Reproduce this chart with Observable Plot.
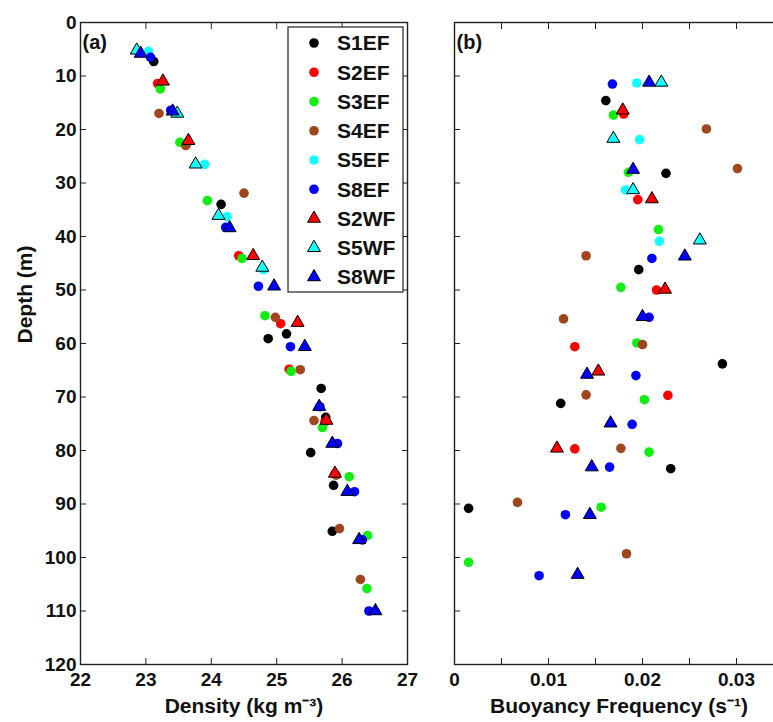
<!DOCTYPE html>
<html><head><meta charset="utf-8">
<script src="https://cdn.jsdelivr.net/npm/d3@7"></script>
<script src="https://cdn.jsdelivr.net/npm/@observablehq/plot@0.6"></script>
<style>
body{margin:0;background:#fff}
#wrap{position:relative;width:773px;height:722px;overflow:hidden;background:#fff;font-family:"Liberation Sans",Arial,sans-serif;font-weight:bold}
#wrap svg{position:absolute;top:0}
</style></head><body><div id="wrap"></div>
<script>
const series = ["S1EF","S2EF","S3EF","S4EF","S5EF","S8EF","S2WF","S5WF","S8WF"];
const colors = ["#000000","#ff0000","#11ee11","#a0461e","#11ffff","#0000ff","#ff0000","#11ffff","#0000ff"];
const shapes = ["circle","circle","circle","circle","circle","circle","triangle","triangle","triangle"];

// Panel (a): [density kg m-3, depth m]
const densS1EF = [[23.12,7.3],[24.15,34.0],[24.87,59.1],[25.15,58.2],[25.68,68.4],[25.75,73.8],[25.52,80.4],[25.87,86.5],[25.85,95.1]];
const densS2EF = [[23.18,11.4],[23.62,22.6],[24.42,43.6],[25.06,56.3],[25.19,64.8],[25.74,74.6],[25.89,84.4]];
const densS3EF = [[23.22,12.4],[23.52,22.4],[23.94,33.3],[24.47,44.1],[24.82,54.8],[25.22,65.2],[25.70,75.7],[26.11,84.9],[26.39,95.9],[26.38,105.8]];
const densS4EF = [[23.20,17.0],[23.61,23.0],[24.50,31.9],[24.98,55.1],[25.36,64.9],[25.57,74.4],[25.91,84.6],[25.96,94.6],[26.28,104.1]];
const densS5EF = [[23.04,5.4],[23.46,16.9],[23.90,26.5],[24.24,36.3],[24.80,46.2]];
const densS8EF = [[23.07,6.5],[23.38,16.4],[24.22,38.3],[24.72,49.3],[25.21,60.6],[25.66,71.8],[25.93,78.7],[26.19,87.7],[26.31,96.7],[26.41,110.0]];
const densS2WF = [[23.26,11.0],[23.65,22.1],[24.64,43.6],[25.32,56.1],[25.76,74.4],[25.89,84.3]];
const densS5WF = [[22.86,5.2],[23.48,17.0],[23.76,26.5],[24.11,36.1],[24.78,45.8]];
const densS8WF = [[22.92,5.8],[23.41,16.6],[24.28,38.4],[24.96,49.3],[25.43,60.6],[25.65,71.8],[25.85,78.7],[26.08,87.7],[26.26,96.7],[26.51,110.0]];

// Panel (b): [buoyancy frequency s-1, depth m]
const freqS1EF = [[0.0161,14.6],[0.0225,28.2],[0.0196,46.2],[0.0285,63.8],[0.0113,71.2],[0.0230,83.4],[0.0015,90.8]];
const freqS2EF = [[0.0180,17.1],[0.0195,33.1],[0.0215,50.0],[0.0128,60.6],[0.0227,69.7],[0.0128,79.7]];
const freqS3EF = [[0.0169,17.3],[0.0185,28.0],[0.0217,38.7],[0.0177,49.5],[0.0194,59.9],[0.0202,70.5],[0.0207,80.3],[0.0156,90.6],[0.0015,100.9]];
const freqS4EF = [[0.0268,19.9],[0.0301,27.3],[0.0140,43.6],[0.0116,55.4],[0.0200,60.2],[0.0140,69.6],[0.0177,79.6],[0.0067,89.7],[0.0183,99.3]];
const freqS5EF = [[0.0194,11.3],[0.0197,21.9],[0.0182,31.3],[0.0218,40.9]];
const freqS8EF = [[0.0168,11.5],[0.0210,44.1],[0.0207,55.1],[0.0193,66.0],[0.0189,75.1],[0.0165,83.1],[0.0118,92.0],[0.0090,103.4]];
const freqS2WF = [[0.0179,16.4],[0.0210,33.0],[0.0224,49.9],[0.0153,65.2],[0.0109,79.6]];
const freqS5WF = [[0.0220,11.2],[0.0169,21.7],[0.0190,31.3],[0.0261,40.7]];
const freqS8WF = [[0.0207,11.2],[0.0190,27.5],[0.0245,43.7],[0.0200,55.0],[0.0141,65.8],[0.0166,74.9],[0.0146,83.1],[0.0144,92.0],[0.0131,103.2]];

const densityTicks = [22,23,24,25,26,27];
const depthTicks = [0,10,20,30,40,50,60,70,80,90,100,110,120];
const freqTicks = [0,0.005,0.01,0.015,0.02,0.025,0.03,0.035];
const freqLabelTicks = [0,0.01,0.02,0.03];

const densData = [densS1EF,densS2EF,densS3EF,densS4EF,densS5EF,densS8EF,densS2WF,densS5WF,densS8WF];
const freqData = [freqS1EF,freqS2EF,freqS3EF,freqS4EF,freqS5EF,freqS8EF,freqS2WF,freqS5WF,freqS8WF];

const FONT = "Liberation Sans, Arial, sans-serif";
const AX = "#222";
const R = 4.8;

function dotMarks(sets){
  return sets.map((arr,i)=>Plot.dot(arr,{
    x: d=>d[0], y: d=>d[1], r: R, symbol: shapes[i], fill: colors[i],
    stroke: shapes[i]==="triangle" ? "#000" : "none", strokeWidth: 1
  }));
}
const style = {fontFamily: FONT, fontWeight: "bold", fontSize: "19px", color: "#111", background: "transparent", overflow: "visible"};

const pa = Plot.plot({
  width: 430, height: 722, marginLeft: 80, marginRight: 23, marginTop: 22, marginBottom: 58,
  x: {domain: [22,27]}, y: {domain: [0,120], reverse: true},
  style,
  marks: [
    Plot.axisX({ticks: densityTicks, anchor: "bottom", tickSize: -6, fill: "none", stroke: AX, label: null}),
    Plot.axisX({ticks: densityTicks, anchor: "top", tickSize: -6, fill: "none", stroke: AX, label: null}),
    Plot.axisY({ticks: depthTicks, anchor: "left", tickSize: -6, fill: "none", stroke: AX, label: null}),
    Plot.axisY({ticks: depthTicks, anchor: "right", tickSize: -6, fill: "none", stroke: AX, label: null}),
    Plot.axisX({ticks: densityTicks, anchor: "bottom", tickSize: 0, tickPadding: 8, label: null, fontSize: 19, fontWeight: "bold", tickFormat: d=>String(d)}),
    Plot.axisY({ticks: depthTicks, anchor: "left", tickSize: 0, tickPadding: 4, label: null, fontSize: 19, fontWeight: "bold", tickFormat: d=>String(d)}),
    Plot.frame({stroke: AX, strokeWidth: 1.4}),
    ...dotMarks(densData),
    Plot.text(["(a)"], {text: d=>d, frameAnchor: "top-left", dx: 2, dy: 12, textAnchor: "start", fontSize: 20, fontWeight: "bold"}),
    Plot.text(["Depth (m)"], {text: d=>d, frameAnchor: "left", dx: -55, rotate: -90, fontSize: 21, fontWeight: "bold"}),
    Plot.text(["Density (kg m\u207B\u00B3)"], {text: d=>d, frameAnchor: "bottom", dy: 48, fontSize: 21, fontWeight: "bold"})
  ]
});
pa.style.left = "0px";

const pb = Plot.plot({
  width: 363, height: 722, marginLeft: 14, marginRight: 20, marginTop: 22, marginBottom: 58,
  x: {domain: [0,0.035]}, y: {domain: [0,120], reverse: true},
  style,
  marks: [
    Plot.axisX({ticks: freqTicks, anchor: "bottom", tickSize: -6, fill: "none", stroke: AX, label: null}),
    Plot.axisX({ticks: freqTicks, anchor: "top", tickSize: -6, fill: "none", stroke: AX, label: null}),
    Plot.axisY({ticks: depthTicks, anchor: "left", tickSize: -6, fill: "none", stroke: AX, label: null}),
    Plot.axisY({ticks: depthTicks, anchor: "right", tickSize: -6, fill: "none", stroke: AX, label: null}),
    Plot.axisX({ticks: freqLabelTicks, anchor: "bottom", tickSize: 0, tickPadding: 8, label: null, fontSize: 19, fontWeight: "bold", tickFormat: d=> d===0 ? "0" : d3.format(".2f")(d)}),
    Plot.frame({stroke: AX, strokeWidth: 1.4}),
    ...dotMarks(freqData),
    Plot.text(["(b)"], {text: d=>d, frameAnchor: "top-left", dx: 2, dy: 12, textAnchor: "start", fontSize: 20, fontWeight: "bold"}),
    Plot.text(["Buoyancy Frequency (s\u207B\u00B9)"], {text: d=>d, frameAnchor: "bottom", dy: 48, fontSize: 21, fontWeight: "bold"})
  ]
});
pb.style.left = "440px";

const wrap = document.getElementById("wrap");
wrap.appendChild(pa);
wrap.appendChild(pb);

// Legend
const LX = 287, LY = 26;
const leg = d3.select(wrap).append("svg").attr("width",118).attr("height",268)
  .style("left", LX+"px").style("top", LY+"px");
leg.append("rect").attr("x",1).attr("y",1).attr("width",115).attr("height",265)
  .attr("fill","#fff").attr("stroke","#333").attr("stroke-width",1.3);
series.forEach((s,i)=>{
  const g = leg.append("g").attr("transform",`translate(27,${17 + i*29.25})`);
  const sym = shapes[i]==="triangle" ? d3.symbolTriangle : d3.symbolCircle;
  g.append("path").attr("d", d3.symbol(sym, Math.PI*R*R)())
    .attr("fill", colors[i])
    .attr("stroke", shapes[i]==="triangle" ? "#000" : "none");
  g.append("text").attr("x", 23).attr("dy","0.35em").text(s)
    .style("font-family", FONT).style("font-weight","bold").style("font-size","21px").attr("fill","#111");
});
</script></body></html>
